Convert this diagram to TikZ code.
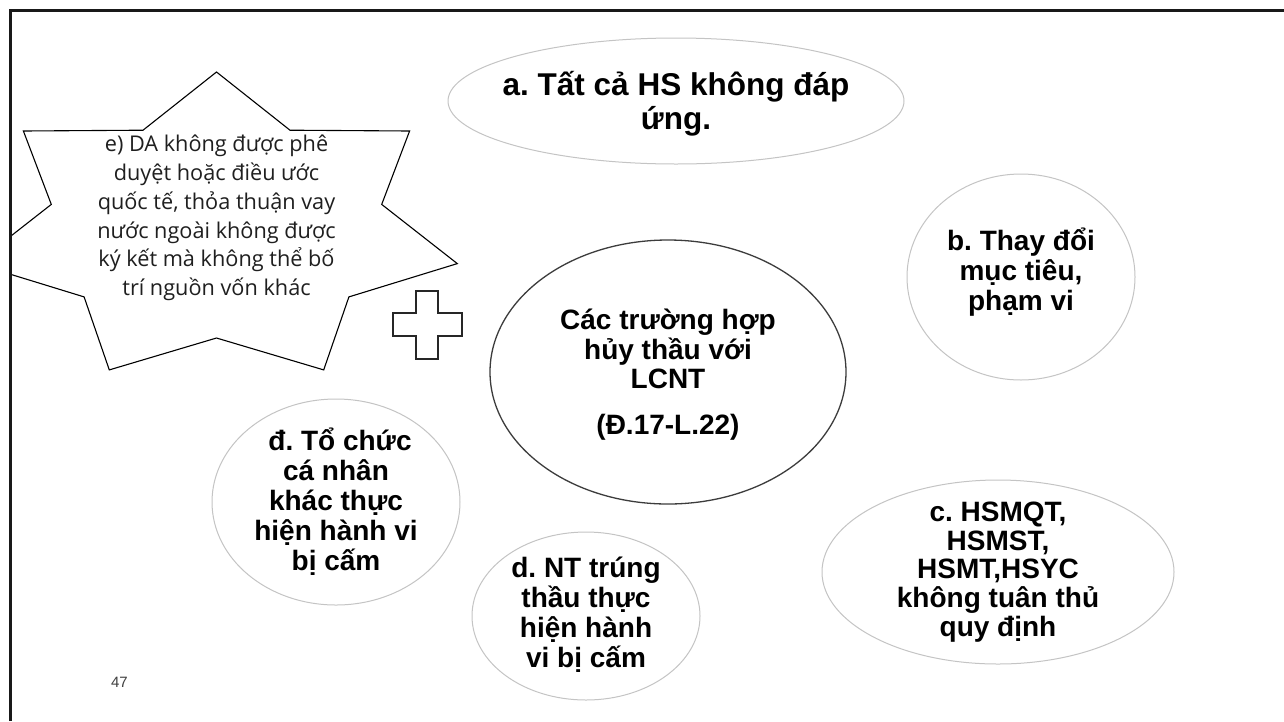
\documentclass[tikz,border=0pt]{standalone}
\usepackage{fontspec}
\setmainfont{Liberation Sans}
\newfontfamily\starfont{Open Sans}
\usetikzlibrary{shapes.geometric}
\definecolor{lightline}{HTML}{C4C4C4}
\definecolor{darkline}{HTML}{3C3C3C}
\frenchspacing
\begin{document}
\begin{tikzpicture}[x=1pt,y=-1pt,
  bubble/.style={ellipse, draw=lightline, line width=1pt, fill=white, inner sep=0pt},
  centre/.style={ellipse, draw=darkline, line width=1.3pt, fill=white, inner sep=0pt},
  bubtext/.style={align=center, inner sep=0pt, text=black, font=\bfseries\fontsize{28}{30}\selectfont},
  startext/.style={align=center, inner sep=0pt, text=black!88, font=\starfont\fontsize{21.7}{28.8}\selectfont},
  starline/.style={draw=black, line width=1.1pt, fill=white, line join=miter},
  plusline/.style={draw=black!85, line width=1.4pt, fill=white},
  frameline/.style={draw=black!90, line width=2.7pt}]
\useasboundingbox (0,0) rectangle (1284,721);
\fill[white] (0,0) rectangle (1284,721);

% star (clipped at the slide edge)
\begin{scope}
\clip (10.3,0) rectangle (1284,721);
\path[starline] (216.5,72.0) -- (290.0,130.2) -- (409.6,131.0) -- (381.7,204.4)
  -- (457.3,263.6) -- (348.9,296.9) -- (323.7,369.9) -- (216.5,338.0)
  -- (109.3,369.9) -- (84.1,296.9) -- (-24.3,263.6) -- (51.3,204.4)
  -- (23.4,131.0) -- (143.0,130.2) -- cycle;
\end{scope}
\node[startext] (tE) at (216.5,218) {e) DA không được phê\\duyệt hoặc điều ước\\quốc tế, thỏa thuận vay\\nước ngoài không được\\ký kết mà không thể bố\\trí nguồn vốn khác};

% plus sign
\path[plusline] (416,291) -- (438,291) -- (438,313) -- (462,313) -- (462,336)
  -- (438,336) -- (438,359) -- (416,359) -- (416,336) -- (393,336)
  -- (393,313) -- (416,313) -- cycle;

% ellipses
\node[bubble, minimum width=456pt, minimum height=126pt] (ellA) at (676,101) {};
\node[bubtext, font=\bfseries\fontsize{31.5}{34}\selectfont] (tA) at ([yshift=-3pt]ellA.center) {a. Tất cả HS không đáp\\ứng.};

\node[bubble, minimum width=228pt, minimum height=206pt] (ellB) at (1021,277) {};
\node[bubtext] (tB) at ([yshift=5pt]ellB.center) {b. Thay đổi\\mục tiêu,\\phạm vi};

\node[bubble, minimum width=352pt, minimum height=184pt] (ellC) at (998,572) {};
\node[bubtext, font=\bfseries\fontsize{28}{28.8}\selectfont] (tC) at (ellC.center) {c. HSMQT,\\HSMST,\\HSMT,HSYC\\không tuân thủ\\quy định};

\node[centre, minimum width=356pt, minimum height=264pt] (ellM) at (668,372) {};
\node[bubtext, font=\bfseries\fontsize{28}{29.3}\selectfont] (tM) at ([yshift=-3pt]ellM.center) {Các trường hợp\\hủy thầu với\\LCNT\\[17pt](Đ.17-L.22)};

\node[bubble, minimum width=248pt, minimum height=206pt] (ellDD) at (336,502) {};
\node[bubtext] (tDD) at (ellDD.center) {\hspace*{8pt}đ. Tổ chức\\cá nhân\\khác thực\\hiện hành vi\\bị cấm};

\node[bubble, minimum width=228pt, minimum height=168pt] (ellD) at (586,616) {};
\node[bubtext] (tD) at ([yshift=1pt]ellD.center) {d. NT trúng\\thầu thực\\hiện hành\\vi bị cấm};

% page number
\node[inner sep=0pt, text=black!75, font=\fontsize{15}{18}\selectfont] (pg) at (119.5,682.5) {47};

% slide frame (top and left edges)
\coordinate (fBL) at (10.3,721);
\coordinate (fTL) at (10.3,10.3);
\coordinate (fTR) at (1284,10.3);
\draw[frameline] (fBL) -- (fTL) -- (fTR);
\end{tikzpicture}
\end{document}
